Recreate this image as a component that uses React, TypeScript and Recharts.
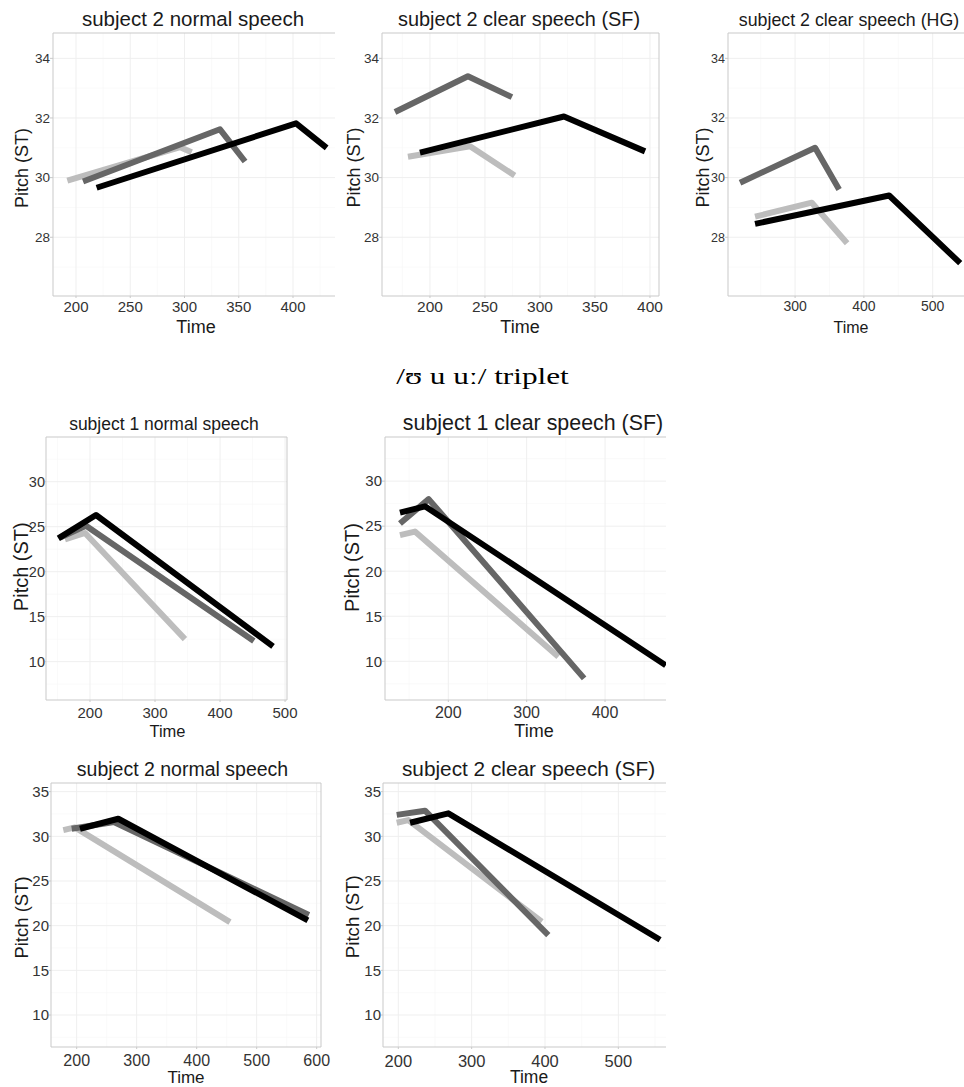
import React from 'react';
import { LineChart, Line, XAxis, YAxis, ReferenceLine } from 'recharts';

// each series: [time, pitch] for onset, peak and offset
const topNormLight = [[192, 29.9], [296, 31.02], [306.6, 30.85]];
const topNormMid = [[206.5, 29.87], [332.7, 31.62], [355.8, 30.54]];
const topNormBlack = [[219, 29.66], [402.8, 31.82], [431, 31.0]];

const topSfLight = [[180, 30.7], [236.4, 31.05], [277, 30.07]];
const topSfMid = [[168.2, 32.2], [234.5, 33.4], [274.5, 32.7]];
const topSfBlack = [[190.9, 30.84], [321.8, 32.05], [395.5, 30.88]];

const topHgLight = [[241.8, 28.69], [324.3, 29.16], [375.6, 27.8]];
const topHgMid = [[220, 29.83], [329.1, 31.0], [364, 29.6]];
const topHgBlack = [[241.8, 28.45], [436.7, 29.4], [540, 27.13]];

const s1NormLight = [[161.5, 23.6], [192.3, 24.3], [346, 12.5]];
const s1NormMid = [[154, 23.8], [193.8, 25.1], [452, 12.3]];
const s1NormBlack = [[151.3, 23.7], [209.2, 26.3], [481.5, 11.7]];

const s1SfLight = [[138.3, 24.0], [157.4, 24.4], [340.4, 10.5]];
const s1SfMid = [[138.3, 25.3], [174.9, 28.0], [373.3, 8.1]];
const s1SfBlack = [[138.3, 26.5], [170.2, 27.2], [477.5, 9.55]];

const s2NormLight = [[177.7, 30.7], [197, 31.0], [455.5, 20.4]];
const s2NormMid = [[191.7, 30.85], [262, 31.6], [587, 21.2]];
const s2NormBlack = [[205.5, 30.85], [269.3, 31.97], [585.3, 20.6]];

const s2SfLight = [[197.8, 31.52], [213.7, 31.82], [395.6, 20.44]];
const s2SfMid = [[197.8, 32.4], [236.4, 32.87], [404.5, 18.95]];
const s2SfBlack = [[216, 31.52], [268.2, 32.57], [556.9, 18.43]];

// tick labels
const xTicks50 = [200, 250, 300, 350, 400];
const xTicksHg = [300, 400, 500];
const yTicksTop = [28, 30, 32, 34];
const xTicksS1Norm = [200, 300, 400, 500];
const xTicksS1Sf = [200, 300, 400];
const yTicksS1 = [10, 15, 20, 25, 30];
const xTicksS2Norm = [200, 300, 400, 500, 600];
const xTicksS2Sf = [200, 300, 400, 500];
const yTicksS2 = [10, 15, 20, 25, 30, 35];

// minor grid
const xMinor50 = [175, 225, 275, 325, 375, 425];
const xMinorHg = [250, 350, 450];
const yMinorTop = [27, 29, 31, 33];
const xMinor100 = [150, 250, 350, 450, 550];
const yMinorBottom = [7.5, 12.5, 17.5, 22.5, 27.5, 32.5];

const LIGHT = '#bdbdbd';
const MID = '#666666';
const DARK = '#000000';
const BORDER = '#c9c9c9';
const FONT = '"Liberation Sans", Arial, sans-serif';

const toPts = (arr: number[][]) => arr.map(([t, p]) => ({ t, p }));

const panels = [
  { title: 'subject 2 normal speech', left: 53, top: 33, right: 335, bottom: 296, xDomain: [178.8, 438.7], yDomain: [26.03, 34.85], xTicks: xTicks50, yTicks: yTicksTop, xMinor: xMinor50, yMinor: yMinorTop, rightBorder: false, xFont: 15, yFont: 13.5, yTick: 3, xGap: 5, series: [topNormLight, topNormMid, topNormBlack], titleX: 193, titleY: 26, titleSize: 20.5, pitchX: 22, pitchY: 168, pitchSize: 18, timeX: 196, timeY: 333, timeSize: 18 },
  { title: 'subject 2 clear speech (SF)', left: 382, top: 33, right: 659, bottom: 296, xDomain: [156.4, 408.2], yDomain: [26.03, 34.85], xTicks: xTicks50, yTicks: yTicksTop, xMinor: xMinor50, yMinor: yMinorTop, rightBorder: true, xFont: 15.5, yFont: 13.5, yTick: 3, xGap: 5, series: [topSfLight, topSfMid, topSfBlack], titleX: 519, titleY: 26, titleSize: 19.9, pitchX: 353.5, pitchY: 167.5, pitchSize: 18, timeX: 520, timeY: 333, timeSize: 18 },
  { title: 'subject 2 clear speech (HG)', left: 728, top: 33, right: 964, bottom: 296, xDomain: [202.5, 545.5], yDomain: [26.03, 34.85], xTicks: xTicksHg, yTicks: yTicksTop, xMinor: xMinorHg, yMinor: yMinorTop, rightBorder: false, xFont: 14, yFont: 12.5, yTick: 3, xGap: 5, series: [topHgLight, topHgMid, topHgBlack], titleX: 849, titleY: 26, titleSize: 17.8, pitchX: 702.5, pitchY: 167.5, pitchSize: 18, timeX: 851, timeY: 333, timeSize: 16 },
  { title: 'subject 1 normal speech', left: 46, top: 437, right: 287, bottom: 700, xDomain: [132.3, 503], yDomain: [5.74, 34.97], xTicks: xTicksS1Norm, yTicks: yTicksS1, xMinor: xMinor100, yMinor: yMinorBottom, rightBorder: true, xFont: 15, yFont: 14.5, yTick: 1, xGap: 7, series: [s1NormLight, s1NormMid, s1NormBlack], titleX: 164, titleY: 430, titleSize: 17.5, pitchX: 21, pitchY: 566.7, pitchSize: 20, timeX: 167.5, timeY: 737, timeSize: 16.5 },
  { title: 'subject 1 clear speech (SF)', left: 385, top: 437, right: 666, bottom: 700, xDomain: [119.2, 477.8], yDomain: [5.7, 34.9], xTicks: xTicksS1Sf, yTicks: yTicksS1, xMinor: xMinor100, yMinor: yMinorBottom, rightBorder: false, xFont: 16, yFont: 15, yTick: 3, xGap: 7, series: [s1SfLight, s1SfMid, s1SfBlack], titleX: 533, titleY: 430, titleSize: 21.4, pitchX: 352, pitchY: 567.5, pitchSize: 20, timeX: 534, timeY: 737, timeSize: 18 },
  { title: 'subject 2 normal speech', left: 51, top: 783, right: 321, bottom: 1047, xDomain: [157.2, 607.2], yDomain: [6.42, 35.97], xTicks: xTicksS2Norm, yTicks: yTicksS2, xMinor: xMinor100, yMinor: yMinorBottom, rightBorder: true, xFont: 16, yFont: 15, yTick: 2, xGap: 8, series: [s2NormLight, s2NormMid, s2NormBlack], titleX: 182.5, titleY: 776, titleSize: 19.5, pitchX: 21, pitchY: 917.5, pitchSize: 18.5, timeX: 186, timeY: 1083, timeSize: 17 },
  { title: 'subject 2 clear speech (SF)', left: 383, top: 783, right: 666, bottom: 1047, xDomain: [179.1, 565], yDomain: [6.42, 35.97], xTicks: xTicksS2Sf, yTicks: yTicksS2, xMinor: xMinor100, yMinor: yMinorBottom, rightBorder: false, xFont: 16.5, yFont: 15, yTick: 2, xGap: 8, series: [s2SfLight, s2SfMid, s2SfBlack], titleX: 528.5, titleY: 776, titleSize: 20.8, pitchX: 352.5, pitchY: 916.7, pitchSize: 18.7, timeX: 529, timeY: 1083, timeSize: 17.5 },
];

const YW = 40;
const XH = 30;
const PAD = 4;
const RM = 24;
const COLORS = [LIGHT, MID, DARK];

const Panel = ({ cfg }: { cfg: any }) => {
  const plotW = cfg.right - cfg.left;
  const plotH = cfg.bottom - cfg.top;
  return (
    <div style={{ position: 'absolute', left: cfg.left - YW, top: cfg.top - PAD }}>
      <LineChart width={YW + plotW + RM} height={PAD + plotH + XH} margin={{ top: PAD, right: RM, bottom: 0, left: 0 }}>
        <XAxis
          type="number"
          dataKey="t"
          domain={cfg.xDomain}
          allowDataOverflow
          ticks={cfg.xTicks}
          interval={0}
          height={XH}
          stroke={BORDER}
          tickSize={2}
          tickMargin={cfg.xGap - 2}
          tick={{ fontSize: cfg.xFont, fill: '#333' }}
        />
        <YAxis
          type="number"
          dataKey="p"
          domain={cfg.yDomain}
          allowDataOverflow
          ticks={cfg.yTicks}
          interval={0}
          width={YW}
          stroke={BORDER}
          tickSize={cfg.yTick}
          tickMargin={0}
          tick={{ fontSize: cfg.yFont, fill: '#333' }}
        />
        {cfg.xMinor.map((v: number) => (
          <ReferenceLine key={'xm' + v} x={v} stroke="#f6f6f6" strokeWidth={0.6} />
        ))}
        {cfg.yMinor.map((v: number) => (
          <ReferenceLine key={'ym' + v} y={v} stroke="#f6f6f6" strokeWidth={0.6} />
        ))}
        {cfg.xTicks.map((v: number) => (
          <ReferenceLine key={'x' + v} x={v} stroke="#efefef" strokeWidth={1} />
        ))}
        {cfg.yTicks.map((v: number) => (
          <ReferenceLine key={'y' + v} y={v} stroke="#efefef" strokeWidth={1} />
        ))}
        <ReferenceLine y={cfg.yDomain[1]} stroke={BORDER} ifOverflow="visible" />
        {cfg.rightBorder && <ReferenceLine x={cfg.xDomain[1]} stroke={BORDER} ifOverflow="visible" />}
        {cfg.series.map((s: number[][], i: number) => (
          <Line
            key={i}
            data={toPts(s)}
            dataKey="p"
            stroke={COLORS[i]}
            strokeWidth={6}
            strokeLinecap="butt"
            strokeLinejoin="round"
            dot={false}
            activeDot={false}
            isAnimationActive={false}
          />
        ))}
      </LineChart>
    </div>
  );
};

export default function App() {
  return (
    <div
      style={{
        position: 'absolute',
        left: 0,
        top: 0,
        width: 964,
        height: 1087,
        overflow: 'hidden',
        background: '#fff',
        fontFamily: FONT,
      }}
    >
      {panels.map((cfg, i) => (
        <Panel key={i} cfg={cfg} />
      ))}
      <svg width={964} height={1087} style={{ position: 'absolute', left: 0, top: 0, pointerEvents: 'none' }}>
        {panels.map((cfg, i) => (
          <g key={i} fill="#1a1a1a" fontFamily={FONT}>
            <text x={cfg.titleX} y={cfg.titleY} textAnchor="middle" fontSize={cfg.titleSize}>
              {cfg.title}
            </text>
            <text
              transform={`translate(${cfg.pitchX},${cfg.pitchY}) rotate(-90)`}
              textAnchor="middle"
              dominantBaseline="central"
              fontSize={cfg.pitchSize}
            >
              Pitch (ST)
            </text>
            <text x={cfg.timeX} y={cfg.timeY} textAnchor="middle" fontSize={cfg.timeSize}>
              Time
            </text>
          </g>
        ))}
        <text
          transform="translate(482.5,384) scale(1.36,1)"
          x={0}
          y={0}
          textAnchor="middle"
          fontSize={23}
          fill="#000"
          fontFamily='"Liberation Serif", "DejaVu Serif", serif'
        >
          /ʊ u uː/ triplet
        </text>
      </svg>
    </div>
  );
}
